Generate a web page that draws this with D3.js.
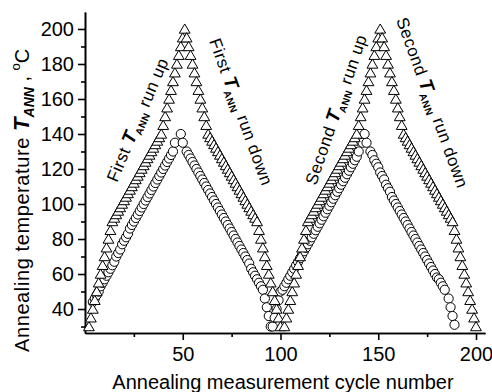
<!DOCTYPE html>
<html>
<head>
<meta charset="utf-8">
<script src="https://cdn.jsdelivr.net/npm/d3@7"></script>
<style>
  body { margin: 0; background: #fff; }
  text { font-family: "Liberation Sans", Arial, sans-serif; fill: #000; }
  .axis path, .axis line { stroke: #000; stroke-width: 1.6; }
</style>
</head>
<body>
<svg id="chart" width="492" height="392"></svg>
<script>
// tick values
const xTicks = [50, 100, 150, 200];
const xMinorTicks = [25, 75, 125, 175];
const yTicks = [40, 60, 80, 100, 120, 140, 160, 180, 200];
const yMinorTicks = [30, 50, 70, 90, 110, 130, 150, 170, 190];

// triangles: [cycle, T_ANN]
const triUp1 = [[2,30],[3,35],[4,40],[5,45],[6,50],[7,55],[8,60],[9,65],[10,70],[11,75],[12,80],[13,85],[14,90],
  [15,92],[16,94],[17,96],[18,98],[19,100],[20,102],[21,104],[22,106],[23,108],[24,110],[25,112],[26,114],[27,116],
  [28,118],[29,120],[30,122],[31,124],[32,126],[33,128],[34,130],[35,132],[36,134],[37,136],[38,138],[39,140],
  [40,145],[41,150],[42,155],[43,160],[44,165],[45,170],[46,175],[47,180],[48,185],[49,190],[50,195],[51,200]];
const triDown1 = [[52,195],[53,190],[54,185],[55,180],[56,175],[57,170],[58,165],[59,160],[60,155],[61,150],[62,145],[63,140],
  [64,138],[65,136],[66,134],[67,132],[68,130],[69,128],[70,126],[71,124],[72,122],[73,120],[74,118],[75,116],[76,114],
  [77,112],[78,110],[79,108],[80,106],[81,104],[82,102],[83,100],[84,98],[85,96],[86,94],[87,92],[88,90],
  [89,85],[90,80],[91,75],[92,70],[93,65],[94,60],[95,55],[96,50],[97,45],[98,40],[99,35],[100,30]];
const triUp2 = [[102,30],[103,35],[104,40],[105,45],[106,50],[107,55],[108,60],[109,65],[110,70],[111,75],[112,80],[113,85],[114,90],
  [115,92],[116,94],[117,96],[118,98],[119,100],[120,102],[121,104],[122,106],[123,108],[124,110],[125,112],[126,114],[127,116],
  [128,118],[129,120],[130,122],[131,124],[132,126],[133,128],[134,130],[135,132],[136,134],[137,136],[138,138],[139,140],
  [140,145],[141,150],[142,155],[143,160],[144,165],[145,170],[146,175],[147,180],[148,185],[149,190],[150,195],[151,200]];
const triDown2 = [[152,195],[153,190],[154,185],[155,180],[156,175],[157,170],[158,165],[159,160],[160,155],[161,150],[162,145],[163,140],
  [164,138],[165,136],[166,134],[167,132],[168,130],[169,128],[170,126],[171,124],[172,122],[173,120],[174,118],[175,116],[176,114],
  [177,112],[178,110],[179,108],[180,106],[181,104],[182,102],[183,100],[184,98],[185,96],[186,94],[187,92],[188,90],
  [189,85],[190,80],[191,75],[192,70],[193,65],[194,60],[195,55],[196,50],[197,45],[198,40],[199,35],[200,30]];

// circles: [cycle, T_ANN]
const cirUp1 = [[4,44],[5,46],[6,48],[7,50],[8,53],[9,55],[10,57],[11,59],[12,61],[13,63],[14,65],[15,67],[16,70],
  [17,72],[18,74],[19,77],[20,79],[21,81],[22,83],[23,86],[24,88],[25,90],[26,92],[27,94],[28,96],[29,98],[30,100],
  [31,102],[32,104],[33,106],[34,108],[35,110],[36,112],[37,114],[38,116],[39,118],[40,120],[41,122],[42,124],
  [43,126],[44,128],[45,130],[46,135],[49,140]];
const cirDown1 = [[50,135],[52,130],[53,128],[54,126],[55,124],[56,122],[57,120],[58,118],[59,116],[60,114],[61,112],
  [62,110],[63,108],[64,106],[65,104],[66,102],[67,100],[68,98],[69,96],[70,94],[71,92],[72,90],[73,88],[74,86],
  [75,84],[76,82],[77,80],[78,78],[79,76],[80,74],[81,72],[82,70],[83,68],[84,66],[85,63],[86,61],[87,59],[88,57],
  [89,55],[90,53],[91,51],[92,46],[93,41],[94,36],[95,30]];
const cirUp2 = [[96,30],[97,35],[98,40],[99,45],[100,50],[101,51],[102,53],[103,55],[104,57],[105,59],[106,61],
  [107,63],[108,65],[109,67],[110,69],[111,71],[112,73],[113,75],[114,77],[115,79],[116,81],[117,83],[118,85],
  [119,87],[120,89],[121,91],[122,93],[123,95],[124,97],[125,99],[126,101],[127,103],[128,105],[129,107],[130,109],
  [131,111],[132,113],[133,115],[134,117],[135,119],[136,121],[137,123],[138,125],[139,127],[140,130],[142,135],[143,140]];
const cirDown2 = [[144,135],[146,130],[147,128],[148,125],[149,123],[150,121],[151,118],[152,116],[153,114],[154,111],
  [155,109],[156,107],[157,104],[158,102],[159,100],[160,98],[161,96],[162,94],[163,92],[164,90],[165,88],[166,86],
  [167,84],[168,82],[169,80],[170,78],[171,76],[172,74],[173,72],[174,70],[175,68],[176,66],[177,64],[178,62],
  [179,60],[180,58],[181,57],[182,55],[183,53],[184,51],[186,46],[187,41],[188,36],[189,31]];

const annotations = [
  {pre: "First ", post: " run up", x: 117, y: 183, angle: -67},
  {pre: "First ", post: " run down", x: 209, y: 41, angle: 70},
  {pre: "Second ", post: " run up", x: 316, y: 186, angle: -71},
  {pre: "Second ", post: " run down", x: 396, y: 20, angle: 70}
];

const svg = d3.select("#chart");
const x = d3.scaleLinear().domain([0, 204.6]).range([85, 485]);
const y = d3.scaleLinear().domain([26.3, 209.7]).range([333, 12]);

// axes
svg.append("g").attr("class", "axis").attr("transform", "translate(0,333)")
  .call(d3.axisBottom(x).tickValues(xMinorTicks).tickSize(4).tickSizeOuter(0).tickFormat(""));
const gx = svg.append("g").attr("class", "axis").attr("transform", "translate(0,333)")
  .call(d3.axisBottom(x).tickValues(xTicks).tickSize(7).tickSizeOuter(0).tickPadding(7));
gx.selectAll("text").style("font-size", "20px");

svg.append("g").attr("class", "axis").attr("transform", "translate(85,0)")
  .call(d3.axisLeft(y).tickValues(yMinorTicks).tickSize(4).tickSizeOuter(0).tickFormat(""));
const gy = svg.append("g").attr("class", "axis").attr("transform", "translate(85,0)")
  .call(d3.axisLeft(y).tickValues(yTicks).tickSize(7).tickSizeOuter(0).tickPadding(4));
gy.selectAll("text").style("font-size", "20px");

// markers
const circles = [].concat(cirUp1, cirDown1, cirUp2, cirDown2);
const triangles = [].concat(triUp1, triDown1, triUp2, triDown2);

svg.append("g").selectAll("circle").data(circles).join("circle")
  .attr("cx", d => x(d[0])).attr("cy", d => y(d[1])).attr("r", 4.6)
  .attr("fill", "#fff").attr("stroke", "#000").attr("stroke-width", 1);

svg.append("g").selectAll("path").data(triangles).join("path")
  .attr("transform", d => `translate(${x(d[0])},${y(d[1])})`)
  .attr("d", "M0,-5L5.4,4.2L-5.4,4.2Z")
  .attr("fill", "#fff").attr("stroke", "#000").attr("stroke-width", 1);

// annotations
annotations.forEach(a => {
  const t = svg.append("text")
    .attr("transform", `translate(${a.x},${a.y}) rotate(${a.angle})`)
    .style("font-size", "17px").style("letter-spacing", "0.5px");
  t.append("tspan").text(a.pre);
  t.append("tspan").text("T").style("font-weight", "bold").style("font-style", "italic").style("font-size", "19px");
  t.append("tspan").text("ANN").style("font-weight", "bold").style("font-size", "10px").attr("dy", 4);
  t.append("tspan").text(a.post).attr("dy", -4);
});

// axis titles
svg.append("text").attr("x", 283).attr("y", 389).attr("text-anchor", "middle")
  .style("font-size", "20px").text("Annealing measurement cycle number");

const yl = svg.append("text").attr("transform", "translate(29,352) rotate(-90)").style("font-size", "20px");
yl.append("tspan").text("Annealing temperature ").style("letter-spacing", "0.6px");
yl.append("tspan").text("T").style("font-weight", "bold").style("font-style", "italic").style("font-size", "22px");
yl.append("tspan").text("ANN").style("font-weight", "bold").style("font-style", "italic").style("font-size", "14px").attr("dy", 5);
yl.append("tspan").text(" , ").attr("dy", -5);
yl.append("tspan").text("o").style("font-size", "13px").attr("dy", -9);
yl.append("tspan").text("C").attr("dy", 9);
</script>
</body>
</html>
